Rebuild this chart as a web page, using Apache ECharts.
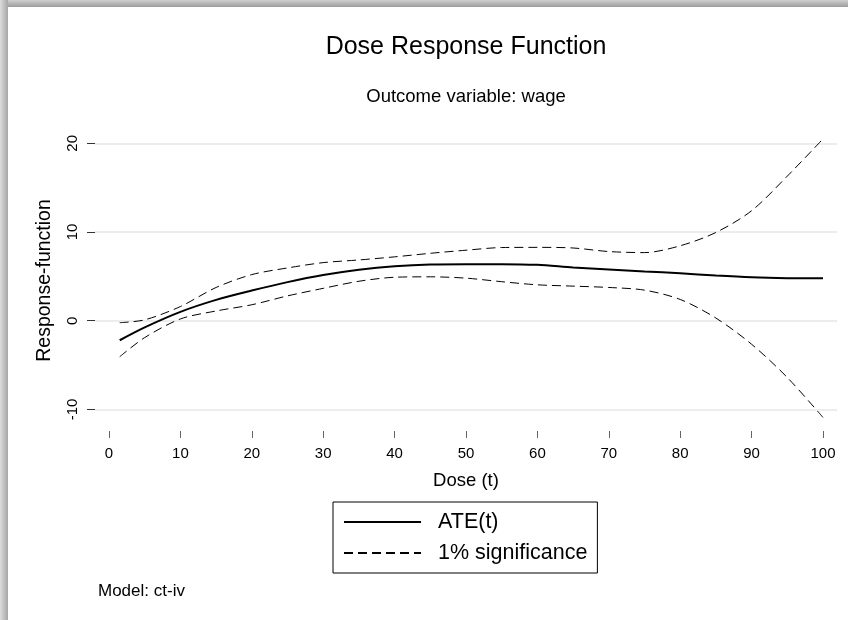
<!DOCTYPE html>
<html>
<head>
<meta charset="utf-8">
<script src="https://cdn.jsdelivr.net/npm/echarts@6/dist/echarts.min.js"></script>
<style>
    html, body { margin: 0; padding: 0; background: #fff; }
    #chart { width: 848px; height: 620px; }
</style>
</head>
<body>
<div id="chart"></div>
<script>
// Dose response data
const doseValues = [1.5, 5, 10, 15, 20, 25, 30, 35, 40, 45, 50, 55, 60, 65, 70, 75, 80, 85, 90, 95, 100];
const ateValues = [-2.2, -0.75, 1.0, 2.35, 3.4, 4.35, 5.15, 5.75, 6.15, 6.35, 6.38, 6.38, 6.3, 6.0, 5.78, 5.55, 5.35, 5.1, 4.9, 4.8, 4.78];
const upperValues = [-0.22, 0.1, 1.6, 3.75, 5.2, 5.95, 6.55, 6.85, 7.2, 7.6, 7.95, 8.25, 8.27, 8.2, 7.8, 7.68, 8.45, 9.95, 12.4, 16.3, 20.5];
const lowerValues = [-4.06, -1.9, 0.2, 1.1, 1.8, 2.8, 3.65, 4.45, 4.9, 4.95, 4.8, 4.4, 4.05, 3.9, 3.75, 3.45, 2.4, 0.3, -2.65, -6.4, -10.9];
const xTicks = [0, 10, 20, 30, 40, 50, 60, 70, 80, 90, 100];
const yTicks = [-10, 0, 10, 20];

const chart = echarts.init(document.getElementById('chart'), null, { renderer: 'canvas' });

const pairs = vals => doseValues.map((d, i) => [d, vals[i]]);
const font = '"Liberation Sans", Arial, sans-serif';

const dashedSeries = (vals) => ({
    name: '1% significance',
    type: 'line',
    data: pairs(vals),
    smooth: 0.3,
    symbol: 'none',
    lineStyle: { color: '#000', width: 1, type: [9, 5] },
    itemStyle: { color: '#000' }
});

chart.setOption({
    backgroundColor: '#fff',
    animation: false,
    title: [
        { text: 'Dose Response Function', left: 466, top: 35, textAlign: 'center', padding: 0,
          textStyle: { fontFamily: font, fontSize: 25, fontWeight: 'normal', color: '#000' } },
        { text: 'Outcome variable: wage', left: 466, top: 87, textAlign: 'center', padding: 0,
          textStyle: { fontFamily: font, fontSize: 18.5, fontWeight: 'normal', color: '#000' } }
    ],
    legend: {
        orient: 'vertical',
        left: 333,
        top: 502,
        padding: [8, 10, 8, 10],
        itemWidth: 77,
        itemHeight: 14,
        itemGap: 7,
        itemStyle: { opacity: 0 },
        borderColor: '#000',
        borderWidth: 1,
        data: ['ATE(t)', '1% significance'],
        textStyle: { fontFamily: font, fontSize: 21.5, color: '#000', lineHeight: 24, padding: [0, 0, 0, 12] }
    },
    grid: { left: 95, right: 11, top: 130, bottom: 189 },
    xAxis: {
        type: 'value',
        min: -1.96,
        max: 101.96,
        name: 'Dose (t)',
        nameLocation: 'middle',
        nameGap: 40,
        nameTextStyle: { fontFamily: font, fontSize: 18.5, color: '#000' },
        axisLine: { show: false, onZero: false },
        axisTick: { show: true, length: 7, customValues: xTicks, lineStyle: { color: '#666', width: 1 } },
        axisLabel: { customValues: xTicks, margin: 15, fontFamily: font, fontSize: 15, color: '#000' },
        splitLine: { show: false }
    },
    yAxis: {
        type: 'value',
        min: -12.43,
        max: 21.5,
        name: 'Response-function',
        nameLocation: 'middle',
        nameGap: 40,
        nameRotate: 90,
        nameTextStyle: { fontFamily: font, fontSize: 19.5, color: '#000' },
        axisLine: { show: false, onZero: false },
        axisTick: { show: true, length: 8, customValues: yTicks, lineStyle: { color: '#333', width: 1 } },
        axisLabel: { customValues: yTicks, rotate: 90, margin: 15, fontFamily: font, fontSize: 15, color: '#000' },
        splitLine: { show: true, lineStyle: { color: '#e6e6e6', width: 1.5 } }
    },
    series: [
        {
            name: 'ATE(t)',
            type: 'line',
            data: pairs(ateValues),
            smooth: 0.3,
            symbol: 'none',
            lineStyle: { color: '#000', width: 2 },
            itemStyle: { color: '#000' },
            z: 3
        },
        dashedSeries(upperValues),
        dashedSeries(lowerValues)
    ],
    graphic: [
        // frame shadow at the top and on the left
        { type: 'rect', left: 0, top: 0, shape: { width: 848, height: 7 }, silent: true,
          style: { fill: new echarts.graphic.LinearGradient(0, 0, 0, 1, [
              { offset: 0, color: '#cfcfcf' }, { offset: 1, color: '#9c9c9c' }]) } },
        { type: 'rect', left: 0, top: 0, shape: { width: 8, height: 620 }, silent: true,
          style: { fill: new echarts.graphic.LinearGradient(0, 0, 1, 0, [
              { offset: 0, color: '#dcdcdc' }, { offset: 1, color: '#a6a6a6' }]) } },
        { type: 'text', left: 98, top: 583, silent: true,
          style: { text: 'Model: ct-iv', fontFamily: font, fontSize: 17, fill: '#000' } }
    ]
});
</script>
</body>
</html>
